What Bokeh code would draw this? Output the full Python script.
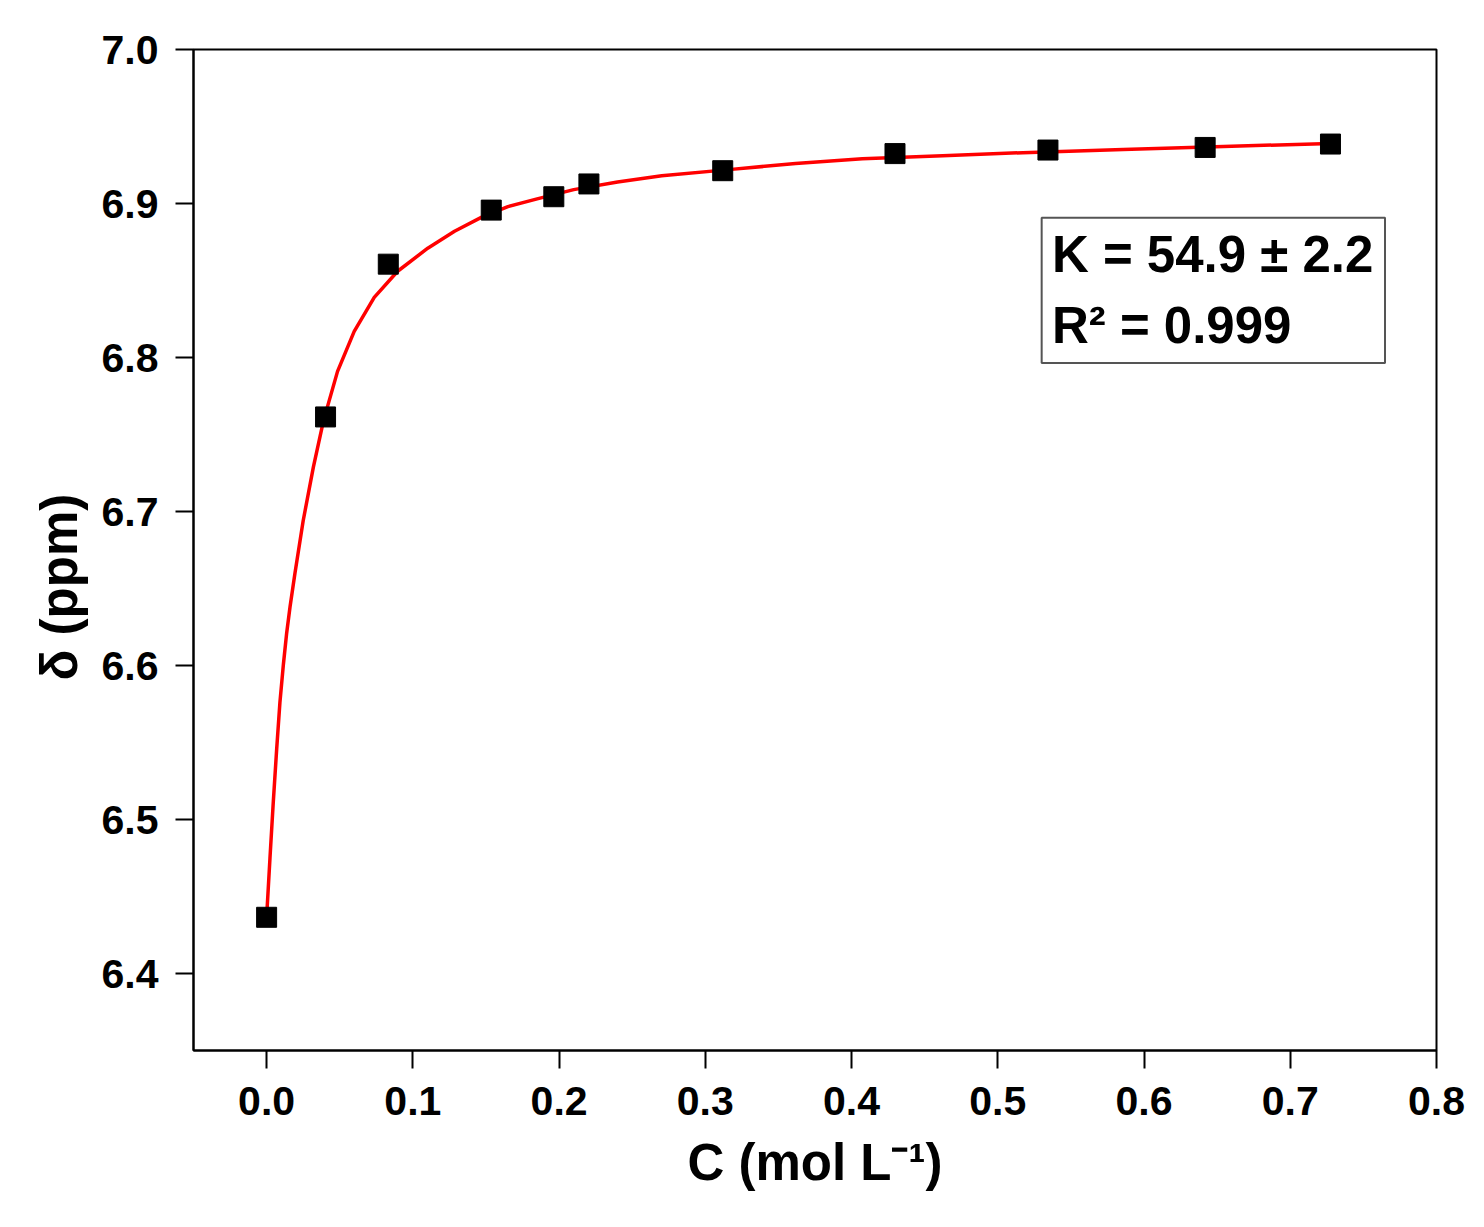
from bokeh.plotting import figure
from bokeh.models import FixedTicker, PrintfTickFormatter, BoxAnnotation, Label, Title
from bokeh.embed import file_html
from bokeh.resources import INLINE

# measured points: concentration (mol/L) vs chemical shift (ppm)
conc = [0.0, 0.0403, 0.0832, 0.1536, 0.1964, 0.2204, 0.3119, 0.4297, 0.5343, 0.6418, 0.7275]
shift = [6.4365, 6.7614, 6.8606, 6.8957, 6.9044, 6.9127, 6.9213, 6.9324, 6.9347, 6.9364, 6.9386]

# fitted curve
fit_x = [0.0, 0.0023, 0.0046, 0.0069, 0.0091, 0.0115, 0.0137, 0.0160, 0.0194, 0.0250,
         0.0320, 0.0389, 0.0485, 0.0599, 0.0736, 0.0896, 0.1102, 0.1285, 0.1468, 0.1650,
         0.1850, 0.2100, 0.2400, 0.2702, 0.3160, 0.3617, 0.4074, 0.4623, 0.5171, 0.5857,
         0.6543, 0.7275]
fit_y = [6.4365, 6.475, 6.512, 6.546, 6.576, 6.601, 6.621, 6.638, 6.660, 6.694,
         6.729, 6.759, 6.791, 6.817, 6.839, 6.856, 6.871, 6.882, 6.891, 6.898,
         6.903, 6.909, 6.914, 6.918, 6.922, 6.926, 6.929, 6.931, 6.933, 6.935,
         6.937, 6.939]

x_ticks = [0.0, 0.1, 0.2, 0.3, 0.4, 0.5, 0.6, 0.7, 0.8]
y_ticks = [6.4, 6.5, 6.6, 6.7, 6.8, 6.9, 7.0]

FONT = "Liberation Sans"

p = figure(width=1468, height=1210, x_range=(-0.05, 0.8), y_range=(6.35, 7.0),
           output_backend="svg", toolbar_location=None,
           x_axis_label="C (mol L\u207b\u00b9)")
p.min_border_left = 193
p.min_border_right = 32
p.min_border_top = 49
p.min_border_bottom = 160
p.background_fill_color = "white"
p.border_fill_color = "white"
p.outline_line_color = "black"
p.outline_line_width = 2
p.grid.visible = False

p.xaxis.ticker = FixedTicker(ticks=x_ticks)
p.yaxis.ticker = FixedTicker(ticks=y_ticks)
p.axis.formatter = PrintfTickFormatter(format="%.1f")

for ax in [p.xaxis[0], p.yaxis[0]]:
    ax.axis_line_width = 2
    ax.major_tick_line_width = 2
    ax.major_tick_out = 18
    ax.major_tick_in = 0
    ax.minor_tick_line_color = None
    ax.major_label_text_font = FONT
    ax.major_label_text_font_style = "bold"
    ax.major_label_text_font_size = "41px"
    ax.major_label_text_color = "black"
    ax.axis_label_text_font = FONT
    ax.axis_label_text_font_style = "bold"
    ax.axis_label_text_font_size = "51px"
    ax.axis_label_text_color = "black"

p.xaxis.major_label_standoff = 18
p.yaxis.major_label_standoff = 17
p.xaxis.axis_label_standoff = 16

# y title as a side title so it can sit below the middle, like the original
ytitle = Title(text="\u03b4 (ppm)", align="left", offset=370, standoff=22,
               text_font=FONT, text_font_style="bold", text_font_size="51px",
               text_color="black")
p.add_layout(ytitle, "left")

p.line(fit_x, fit_y, line_color="red", line_width=3.5)
p.scatter(conc, shift, marker="square", size=20, fill_color="black", line_color="black")

box = BoxAnnotation(left=0.530, right=0.7648, top=6.8907, bottom=6.7964,
                    fill_color="white", fill_alpha=1.0,
                    line_color="#555555", line_alpha=1.0, line_width=2)
p.add_layout(box)

lab1 = Label(x=0.537, y=6.867, text="K = 54.9 \u00b1 2.2", text_font=FONT,
             text_font_style="bold", text_font_size="51px", text_color="black",
             text_baseline="alphabetic")
lab2 = Label(x=0.537, y=6.821, text="R\u00b2 = 0.999", text_font=FONT,
             text_font_style="bold", text_font_size="51px", text_color="black",
             text_baseline="alphabetic")
p.add_layout(lab1)
p.add_layout(lab2)

open("out.html", "w").write(file_html(p, INLINE))
